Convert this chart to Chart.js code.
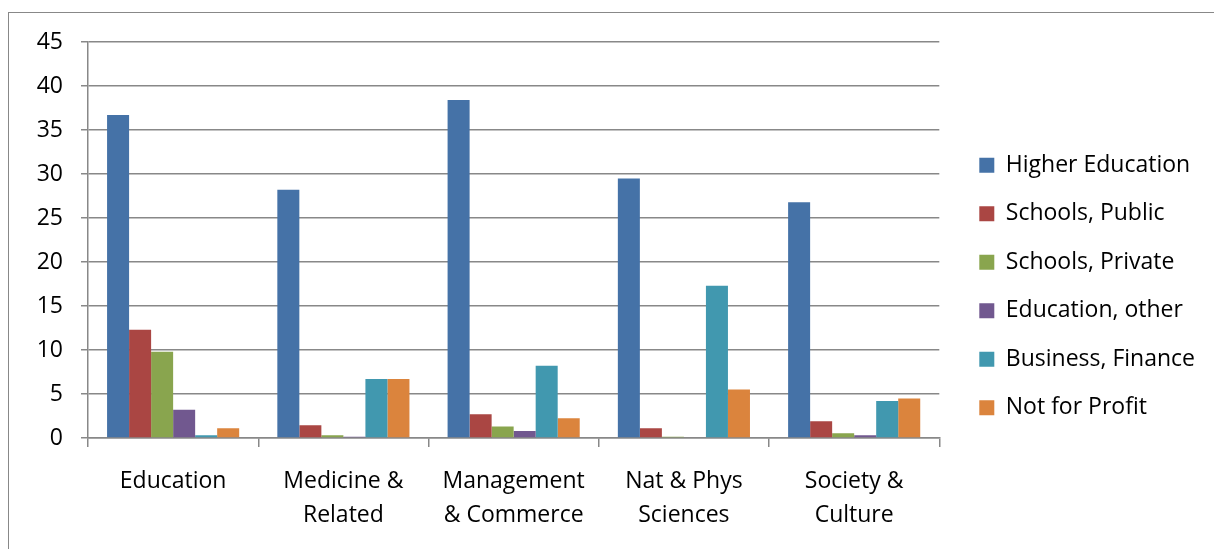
<!DOCTYPE html>
<html>
<head>
<meta charset="utf-8">
<script src="https://cdn.jsdelivr.net/npm/chart.js@4.4.1/dist/chart.umd.min.js"></script>
<style>
  html, body { margin: 0; padding: 0; background: #fff; }
  body { width: 1214px; height: 549px; overflow: hidden; position: relative; }
  #frame { position: absolute; left: 8px; top: 12px; width: 1220px; height: 560px; border: 1.5px solid #888; box-sizing: border-box; }
  #wrap { position: absolute; left: 0; top: 0; width: 1214px; height: 549px; }
</style>
</head>
<body>
<div id="frame"></div>
<div id="wrap"><canvas id="myChart"></canvas></div>
<script>
const categories = [["Education"], ["Medicine &", "Related"], ["Management", "& Commerce"], ["Nat & Phys", "Sciences"], ["Society &", "Culture"]];
const seriesNames = ["Higher Education", "Schools, Public", "Schools, Private", "Education, other", "Business, Finance", "Not for Profit"];
const higherEducation = [36.7, 28.2, 38.4, 29.5, 26.8];
const schoolsPublic = [12.3, 1.45, 2.7, 1.1, 1.9];
const schoolsPrivate = [9.8, 0.3, 1.3, 0.15, 0.55];
const educationOther = [3.2, 0.15, 0.8, 0, 0.3];
const businessFinance = [0.3, 6.7, 8.2, 17.3, 4.2];
const notForProfit = [1.1, 6.7, 2.25, 5.5, 4.5];
const yTicks = [0, 5, 10, 15, 20, 25, 30, 35, 40, 45];

const colors = ["#4572A7", "#AA4643", "#89A54E", "#71588F", "#4198AF", "#DB843D"];
const fontFamily = "'Open Sans', sans-serif";
const fontSize = 23;

const allSeries = [higherEducation, schoolsPublic, schoolsPrivate, educationOther, businessFinance, notForProfit];

new Chart("myChart", {
  type: "bar",
  data: {
    labels: categories,
    datasets: allSeries.map((d, i) => ({
      label: seriesNames[i],
      data: d,
      backgroundColor: colors[i],
      borderWidth: 0,
      categoryPercentage: 0.776,
      barPercentage: 1,
    })),
  },
  options: {
    responsive: true,
    maintainAspectRatio: false,
    animation: false,
    layout: { padding: { top: 42, left: 0, right: 9, bottom: 18 } },
    plugins: {
      tooltip: { enabled: false },
      legend: {
        position: "right",
        align: "center",
        maxWidth: 320,
        labels: {
          boxWidth: 15,
          boxHeight: 15,
          padding: 25.5,
          color: "#000",
          font: { family: fontFamily, size: fontSize },
        },
      },
    },
    scales: {
      x: {
        grid: { offset: true, drawOnChartArea: false, drawTicks: true, tickLength: 9, color: "#888", lineWidth: 1.5 },
        border: { color: "#888", width: 1.5 },
        ticks: { color: "#000", padding: 18, maxRotation: 0, font: { family: fontFamily, size: fontSize, lineHeight: 1.45 } },
        afterFit: (s) => { s.height = 93; },
      },
      y: {
        min: 0,
        max: 45,
        afterBuildTicks: (s) => { s.ticks = yTicks.map((v) => ({ value: v })); },
        grid: { color: "#888", lineWidth: 1.5, tickLength: 7 },
        border: { color: "#888", width: 1.5 },
        ticks: { color: "#000", padding: 18, font: { family: fontFamily, size: fontSize } },
        afterFit: (s) => { s.width = 88; },
      },
      spacer: {
        type: "linear",
        position: "right",
        display: true,
        grid: { display: false },
        border: { display: false },
        ticks: { display: false },
        afterFit: (s) => { s.width = 14.5; },
      },
    },
  },
});
</script>
</body>
</html>
